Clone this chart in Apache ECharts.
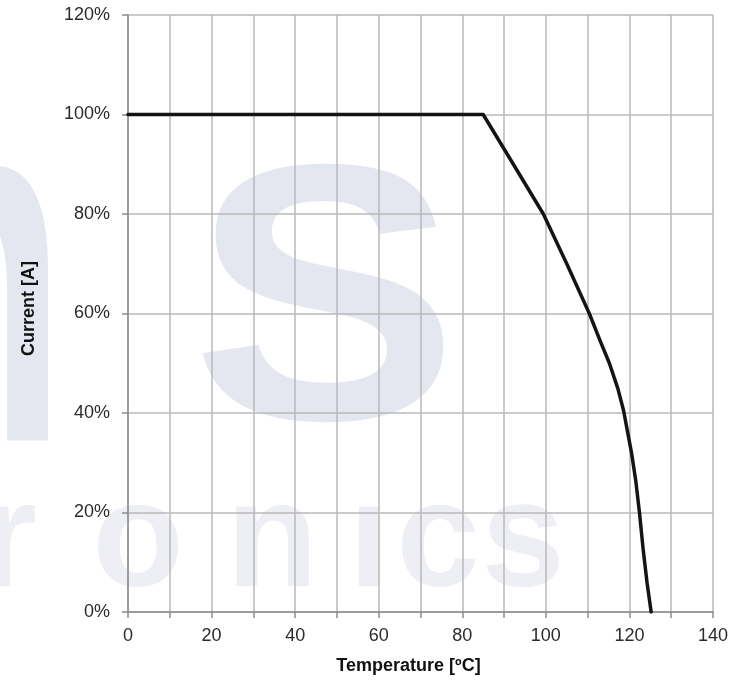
<!DOCTYPE html>
<html>
<head>
<meta charset="utf-8">
<script src="https://cdn.jsdelivr.net/npm/echarts@6/dist/echarts.min.js"></script>
<style>
html,body{margin:0;padding:0;background:#fff;}
#chart{width:734px;height:686px;}
</style>
</head>
<body>
<div id="chart"></div>
<script>
// Data
var temperature = [0, 85, 92, 99.4, 105, 110.4, 113, 115.2, 117.2, 118.6, 119.6, 120.5, 121.5, 122.4, 123.3, 124.2, 125.2];
var current     = [100, 100, 90.3, 80, 70, 60, 54.5, 50, 45, 40.5, 36, 32, 26.5, 20, 12.5, 6, 0];
var xTicks = [0, 20, 40, 60, 80, 100, 120, 140];
var yTicks = [0, 20, 40, 60, 80, 100, 120];
var xTitle = 'Temperature [ºC]';
var yTitle = 'Current [A]';

var points = temperature.map(function (t, i) { return [t, current[i]]; });

var chart = echarts.init(document.getElementById('chart'), null, {renderer: 'canvas'});
var wm = '#e5e7f0';
var wm2 = '#eeeff4';
var wmFont = 'Liberation Sans, Arial, sans-serif';
function wmText(txt, x, y, size, color, sx, sy) {
  return {
    type: 'text', x: x, y: y, z: -10, silent: true,
    scaleX: sx || 1, scaleY: sy || 1,
    style: {text: txt, fill: color, font: 'bold ' + size + 'px ' + wmFont,
            textAlign: 'center', textVerticalAlign: 'middle'}
  };
}
chart.setOption({
  animation: false,
  backgroundColor: '#ffffff',
  graphic: [
    wmText('S', 325, 318, 365, wm, 1.1, 1),
    wmText('n', -25, 300, 300, wm, 1, 1.7),
    wmText('r', 8, 545, 150, wm2),
    wmText('o', 138, 545, 150, wm2),
    wmText('n', 272, 545, 150, wm2),
    wmText('ı', 369, 545, 150, wm2),
    wmText('c', 438, 545, 150, wm2),
    wmText('s', 523, 545, 150, wm2)
  ],
  grid: {left: 128, right: 21, top: 15, bottom: 74, containLabel: false},
  xAxis: {
    type: 'value', min: 0, max: 140, interval: 10,
    name: xTitle, nameLocation: 'middle', nameGap: 45,
    nameTextStyle: {fontFamily: 'Liberation Sans, Arial', fontWeight: 'bold', fontSize: 18, color: '#111', padding: [0, 24, 0, 0]},
    axisLine: {show: true, lineStyle: {color: '#8c8c8c', width: 1.5}},
    axisTick: {show: true, inside: false, length: 6, lineStyle: {color: '#8c8c8c', width: 1.5}},
    axisLabel: {
      margin: 15, fontSize: 18, color: '#2b2b2b', fontFamily: 'Liberation Sans, Arial',
      formatter: function (v) { return xTicks.indexOf(v) >= 0 ? String(v) : ''; }
    },
    splitLine: {show: true, lineStyle: {color: '#b8b8b8', width: 1.5}}
  },
  yAxis: {
    type: 'value', min: 0, max: 120, interval: 20,
    name: yTitle, nameLocation: 'middle', nameGap: 90, nameRotate: 90,
    nameTextStyle: {fontFamily: 'Liberation Sans, Arial', fontWeight: 'bold', fontSize: 18, color: '#111', padding: [0, 0, 0, 10]},
    axisLine: {show: true, lineStyle: {color: '#8c8c8c', width: 1.5}},
    axisTick: {show: true, inside: false, length: 6, lineStyle: {color: '#8c8c8c', width: 1.5}},
    axisLabel: {
      margin: 18, fontSize: 18, color: '#2b2b2b', fontFamily: 'Liberation Sans, Arial',
      formatter: function (v) { return yTicks.indexOf(v) >= 0 ? v + '%' : ''; }
    },
    splitLine: {show: true, lineStyle: {color: '#b8b8b8', width: 1.5}}
  },
  series: [{
    type: 'line',
    data: points,
    symbol: 'none',
    smooth: false,
    lineStyle: {color: '#141414', width: 3.5, join: 'round', cap: 'round'},
    z: 5
  }]
});
</script>
</body>
</html>
